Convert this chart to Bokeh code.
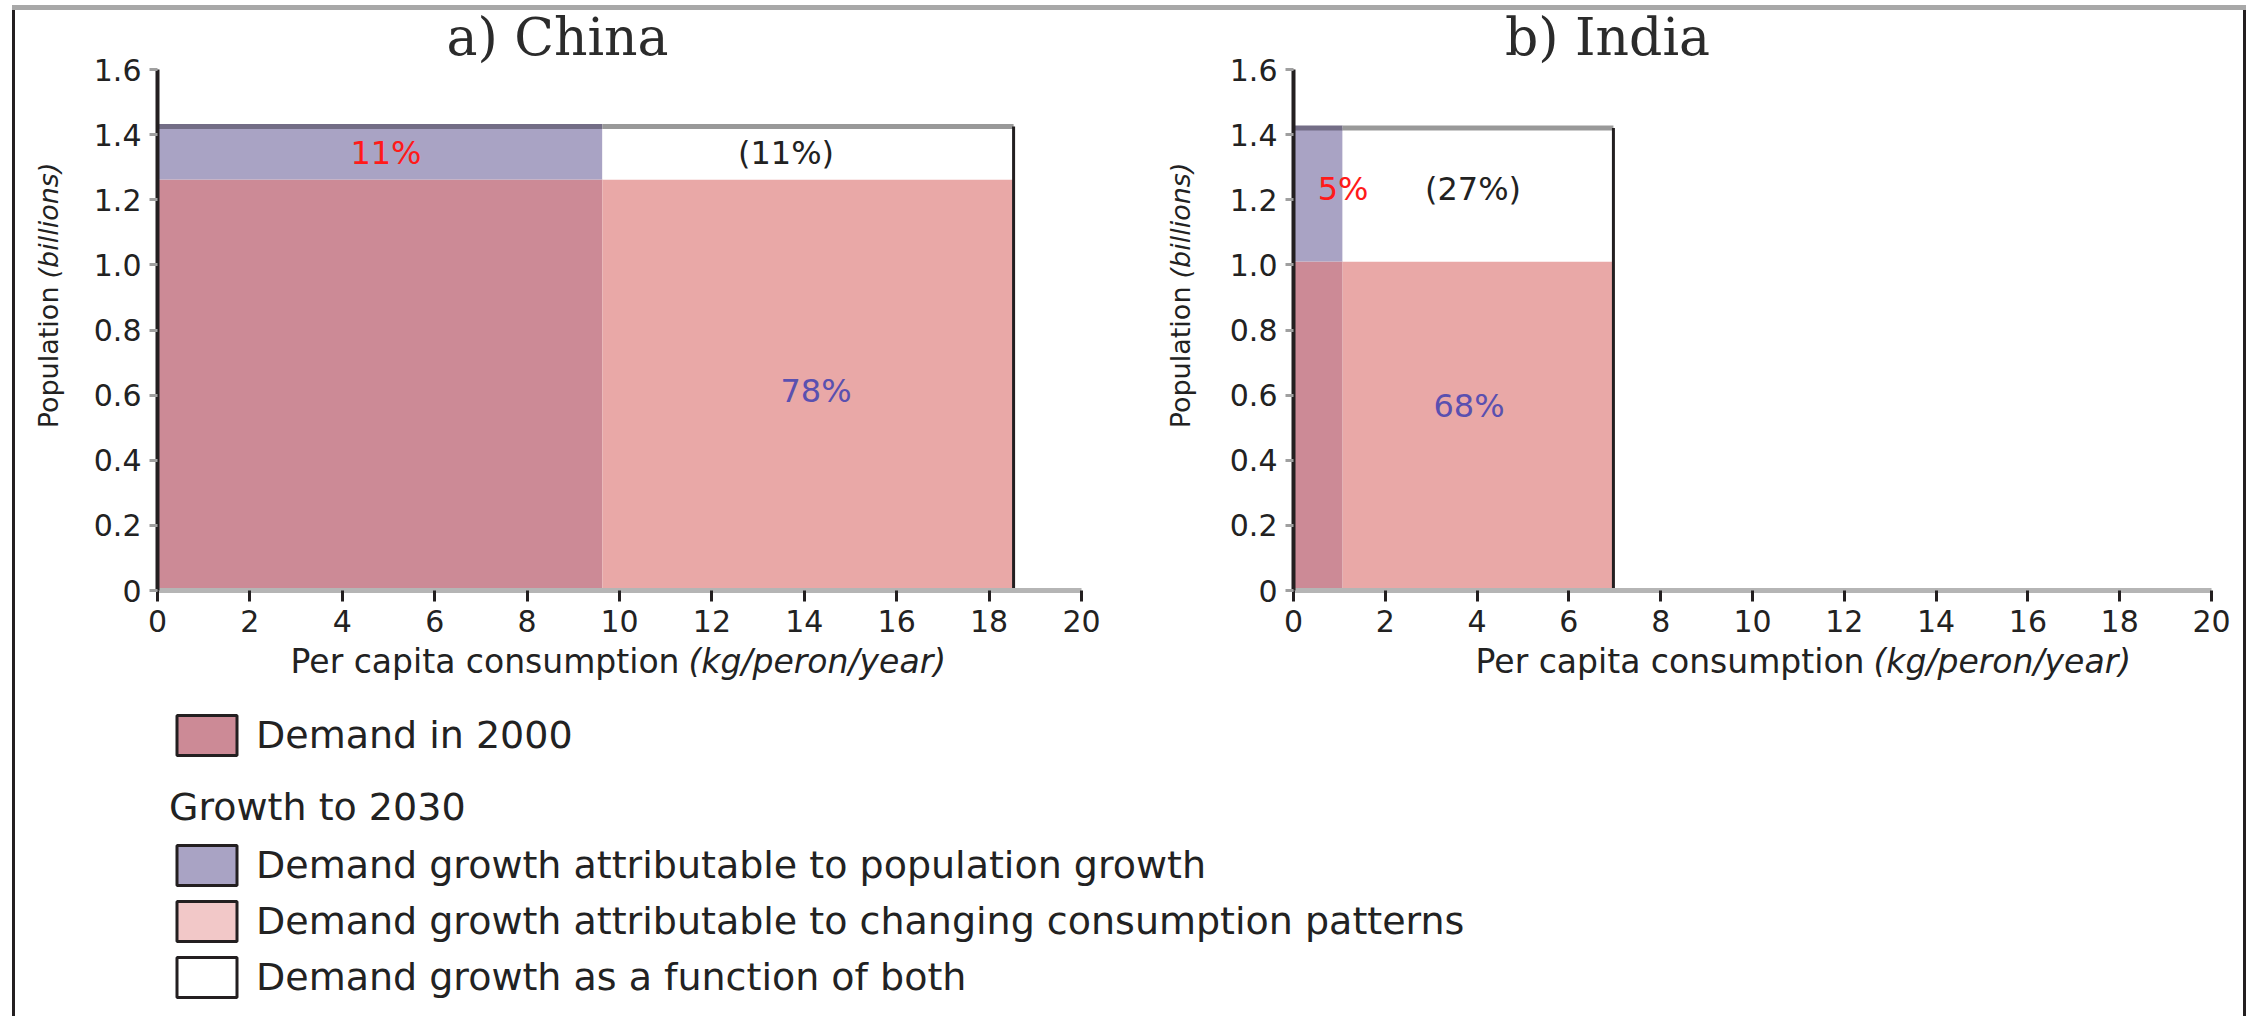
import math
from bokeh.plotting import figure
from bokeh.layouts import column, row
from bokeh.models import (ColumnDataSource, FixedTicker, Label, Legend,
                          LegendItem, Range1d)
from bokeh.core.properties import value
from bokeh.embed import file_html
from bokeh.resources import INLINE

# ---------------- data ----------------
panel_titles = ["a) China", "b) India"]
pop_2000 = [1.262, 1.01]      # population in 2000 (billions)
pop_2030 = [1.425, 1.42]      # population in 2030 (billions)
cons_2000 = [9.63, 1.07]      # per capita consumption 2000 (kg/person/year)
cons_2030 = [18.53, 6.97]     # per capita consumption 2030
share_pop = ["11%", "5%"]
share_both = ["(11%)", "(27%)"]
share_cons = ["78%", "68%"]
x_ticks = [0, 2, 4, 6, 8, 10, 12, 14, 16, 18, 20]
y_ticks = [0, 0.2, 0.4, 0.6, 0.8, 1.0, 1.2, 1.4, 1.6]
y_tick_labels = ["0", "0.2", "0.4", "0.6", "0.8", "1.0", "1.2", "1.4", "1.6"]
x_label_parts = ["Per capita consumption", "(kg/peron/year)"]
y_label_parts = ["Population", "(billions)"]
legend_first = "Demand in 2000"
legend_heading = "Growth to 2030"
legend_growth = ["Demand growth attributable to population growth",
                 "Demand growth attributable to changing consumption patterns",
                 "Demand growth as a function of both"]

# ---------------- styles ----------------
C_BASE = "#cc8a96"
C_POP = "#a9a3c4"
C_CONS = "#e9a8a7"
C_CONS_LEG = "#f2c8c8"
C_BOTH = "#ffffff"
INK = "#231f20"
SANS = "DejaVu Sans"

FIG_H = 690
Y0_PX, Y16_PX = 590, 69            # screen rows of y = 0 and y = 1.6
YS = (Y0_PX - Y16_PX) / 1.6

# per-panel layout geometry in screen pixels
panel_geom = [
    dict(left=0, width=1130, x0=157, x20=1081, title_cx=557, xl_split=688,
         yl_cx=48, lab_off=[(6, 0), (-22, 0), (8, 6)]),
    dict(left=1130, width=1116, x0=1293, x20=2211, title_cx=1607,
         xl_split=1873, yl_cx=1180, lab_off=[(25, -6), (-5, -6), (-9, -20)]),
]


def make_panel(i):
    g = panel_geom[i]
    xs = (g["x20"] - g["x0"]) / 20.0
    px2x = lambda px: (px - g["x0"]) / xs
    py2y = lambda py: (Y0_PX - py) / YS
    p = figure(width=g["width"], height=FIG_H, output_backend="svg",
               toolbar_location=None, title=None,
               x_range=Range1d(px2x(g["left"]), px2x(g["left"] + g["width"])),
               y_range=Range1d(py2y(FIG_H), py2y(0)), min_border=0)
    p.border_fill_color = None
    p.background_fill_color = None
    p.outline_line_color = None
    p.grid.visible = False

    c0, c1, p0, p1 = cons_2000[i], cons_2030[i], pop_2000[i], pop_2030[i]
    src = ColumnDataSource(dict(
        left=[0, 0, c0, c0], right=[c0, c0, c1, c1],
        bottom=[0, p0, 0, p0], top=[p0, p1, p0, p1],
        color=[C_BASE, C_POP, C_CONS, C_BOTH]))
    p.quad(left="left", right="right", bottom="bottom", top="top",
           fill_color="color", line_color=None, source=src)
    # top edge and right edge of the 2030 block
    p.segment(x0=[0], y0=[p1], x1=[c0], y1=[p1], line_color="#736d86",
              line_width=5)
    p.segment(x0=[c0], y0=[p1], x1=[c1], y1=[p1], line_color="#999999",
              line_width=5)
    p.segment(x0=[c1], y0=[0], x1=[c1], y1=[p1], line_color=INK,
              line_width=3)

    # share labels
    offs = g["lab_off"]
    lsrc = ColumnDataSource(dict(
        x=[c0 / 2, (c0 + c1) / 2, (c0 + c1) / 2],
        y=[(p0 + p1) / 2, (p0 + p1) / 2, p0 / 2],
        text=[share_pop[i], share_both[i], share_cons[i]],
        color=["#ff1a1a", "#222222", "#5a50b0"],
        xo=[o[0] for o in offs], yo=[o[1] for o in offs]))
    p.text(x="x", y="y", text="text", text_color="color", x_offset="xo",
           y_offset="yo", text_align="center", text_baseline="middle",
           text_font=value(SANS), text_font_size=value("32px"), source=lsrc)

    # axes drawn at the data origin
    xa, ya = p.xaxis[0], p.yaxis[0]
    xa.fixed_location = 0
    ya.fixed_location = 0
    xa.bounds = (x_ticks[0], x_ticks[-1])
    ya.bounds = (y_ticks[0], y_ticks[-1])
    xa.ticker = FixedTicker(ticks=x_ticks)
    ya.ticker = FixedTicker(ticks=y_ticks)
    ya.major_label_overrides = {t: s for t, s in zip(y_ticks, y_tick_labels)}
    for ax in (xa, ya):
        ax.minor_tick_line_color = None
        ax.major_tick_in = 0
        ax.major_label_text_font = SANS
        ax.major_label_text_font_size = "30px"
        ax.major_label_text_color = "#222222"
    xa.axis_line_color = "#b5b5b5"
    xa.axis_line_width = 5
    xa.major_tick_line_color = INK
    xa.major_tick_line_width = 3
    xa.major_tick_out = 11
    xa.major_label_standoff = 8
    ya.axis_line_color = INK
    ya.axis_line_width = 4
    ya.major_tick_line_color = "#a0a0a0"
    ya.major_tick_line_width = 3
    ya.major_tick_out = 8
    ya.major_label_standoff = 8

    # panel title
    p.add_layout(Label(x=px2x(g["title_cx"]), y=py2y(36),
                       text=panel_titles[i], text_font="DejaVu Serif",
                       text_font_size="52px", text_color="#2b2b2b",
                       text_align="center", text_baseline="middle"))
    # x axis label (regular + italic part)
    p.add_layout(Label(x=px2x(g["xl_split"] - 9), y=py2y(661),
                       text=x_label_parts[0], text_font=SANS,
                       text_font_size="33px", text_color="#222222",
                       text_align="right", text_baseline="middle"))
    p.add_layout(Label(x=px2x(g["xl_split"]), y=py2y(661),
                       text=x_label_parts[1], text_font=SANS,
                       text_font_size="33px", text_font_style="italic",
                       text_color="#222222", text_align="left",
                       text_baseline="middle"))
    # y axis label (rotated, regular + italic part)
    p.add_layout(Label(x=px2x(g["yl_cx"]), y=py2y(286),
                       text=y_label_parts[0], angle=math.pi / 2,
                       text_font=SANS, text_font_size="27px",
                       text_color="#222222", text_align="right",
                       text_baseline="middle"))
    p.add_layout(Label(x=px2x(g["yl_cx"]), y=py2y(278),
                       text=y_label_parts[1], angle=math.pi / 2,
                       text_font=SANS, text_font_size="27px",
                       text_font_style="italic", text_color="#222222",
                       text_align="left", text_baseline="middle"))
    return p, src


pa, china_src = make_panel(0)
pb, _ = make_panel(1)

# ---------------- legend figure ----------------
LEG_H = 326
pl = figure(width=2246, height=LEG_H, output_backend="svg",
            toolbar_location=None, title=None, x_range=Range1d(0, 20),
            y_range=Range1d(0, 1.6), min_border=0)
pl.axis.visible = False
pl.grid.visible = False
pl.outline_line_color = None
pl.border_fill_color = None
pl.background_fill_color = None


def swatch(k, color):
    r = pl.quad(left=[china_src.data["left"][k]],
                right=[china_src.data["right"][k]],
                bottom=[china_src.data["bottom"][k]],
                top=[china_src.data["top"][k]],
                fill_color=color, line_color=INK, line_width=3)
    r.visible = False
    return r


r_base = swatch(0, C_BASE)
r_pop = swatch(1, C_POP)
r_cons = swatch(2, C_CONS_LEG)
r_both = swatch(3, C_BOTH)


def style_legend(leg):
    leg.padding = 0
    leg.margin = 0
    leg.border_line_color = None
    leg.background_fill_alpha = 0
    leg.inactive_fill_alpha = 0
    leg.label_text_font = SANS
    leg.label_text_font_size = "38px"
    leg.label_text_color = "#222222"
    leg.glyph_width = 75
    leg.glyph_height = 50
    leg.label_standoff = 12
    leg.spacing = 6
    leg.title_text_font = SANS
    leg.title_text_font_size = "38px"
    leg.title_text_font_style = "normal"
    leg.title_text_color = "#222222"
    leg.title_standoff = 11


leg1 = Legend(items=[LegendItem(label=legend_first, renderers=[r_base])],
              location=(169, 256))
style_legend(leg1)
leg2 = Legend(items=[LegendItem(label=legend_growth[0], renderers=[r_pop]),
                     LegendItem(label=legend_growth[1], renderers=[r_cons]),
                     LegendItem(label=legend_growth[2], renderers=[r_both])],
              title=legend_heading, location=(169, 14))
style_legend(leg2)
pl.add_layout(leg1)
pl.add_layout(leg2)

layout = column(row(pa, pb), pl, styles={
    "box-shadow": ("inset 0 5px 0 #ffffff, inset 12px 0 0 #ffffff, "
                   "inset 0 10px 0 #a8a8a8, inset 15px 0 0 #231f20, "
                   "inset -3px 0 0 #231f20")})

open("out.html", "w").write(file_html(layout, INLINE))
